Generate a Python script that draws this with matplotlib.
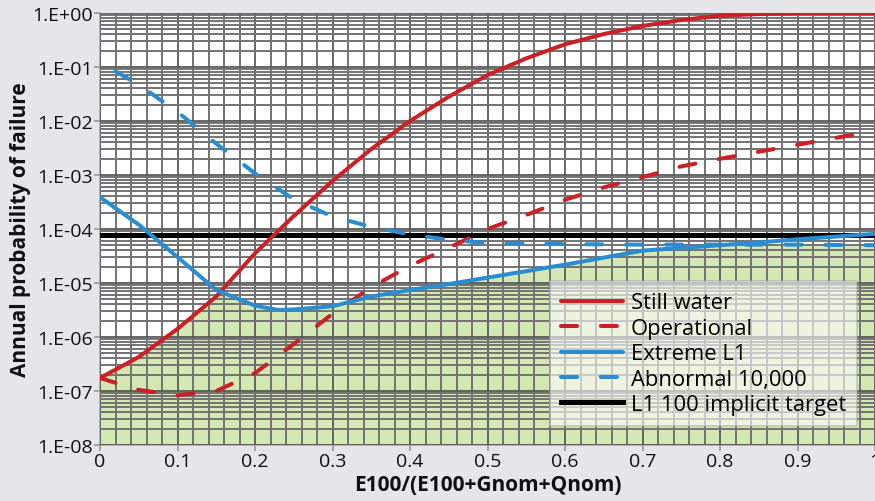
import numpy as np
import matplotlib
matplotlib.use("Agg")
import matplotlib.pyplot as plt
from matplotlib.ticker import MultipleLocator, LogLocator, NullFormatter

# ---- data (log10 of annual probability of failure) ----
x_sw = [0, 0.05, 0.1, 0.15, 0.2, 0.25, 0.3, 0.35, 0.4, 0.45, 0.5, 0.55, 0.6, 0.65, 0.7, 0.75, 0.8, 0.85, 0.9, 0.95, 1.0]
still_water = [-6.76, -6.37, -5.85, -5.25, -4.45, -3.76, -3.11, -2.52, -2.0, -1.55, -1.15, -0.84, -0.58, -0.39, -0.24, -0.13, -0.05, -0.02, 0.0, 0.0, 0.0]

x_op = [0, 0.05, 0.1, 0.15, 0.2, 0.25, 0.3, 0.35, 0.4, 0.45, 0.5, 0.55, 0.6, 0.65, 0.7, 0.75, 0.8, 0.85, 0.9, 0.95, 1.0]
operational = [-6.76, -6.98, -7.08, -7.0, -6.67, -6.13, -5.57, -5.08, -4.68, -4.35, -4.0, -3.74, -3.46, -3.23, -3.04, -2.84, -2.70, -2.57, -2.44, -2.31, -2.19]

x_ex = [0, 0.05, 0.1, 0.15, 0.2, 0.23, 0.25, 0.3, 0.35, 0.4, 0.45, 0.5, 0.55, 0.6, 0.65, 0.7, 0.75, 0.8, 0.85, 0.9, 0.95, 1.0]
extreme_l1 = [-3.41, -3.92, -4.52, -5.13, -5.42, -5.50, -5.49, -5.43, -5.25, -5.13, -5.02, -4.90, -4.78, -4.66, -4.53, -4.40, -4.35, -4.30, -4.25, -4.19, -4.14, -4.09]

x_ab = [0.02, 0.05, 0.1, 0.15, 0.2, 0.25, 0.3, 0.35, 0.4, 0.45, 0.5, 0.6, 0.7, 0.8, 0.9, 1.0]
abnormal = [-1.08, -1.33, -1.83, -2.42, -2.97, -3.45, -3.77, -3.96, -4.10, -4.20, -4.26, -4.28, -4.29, -4.29, -4.29, -4.30]

target_log = -4.11

labels = ["Still water", "Operational", "Extreme L1", "Abnormal 10,000", "L1 100 implicit target"]
ytick_vals = [1e-8, 1e-7, 1e-6, 1e-5, 1e-4, 1e-3, 1e-2, 1e-1, 1e0]
ytick_labels = ["1.E-08", "1.E-07", "1.E-06", "1.E-05", "1.E-04", "1.E-03", "1.E-02", "1.E-01", "1.E+00"]
xtick_vals = [0, 0.1, 0.2, 0.3, 0.4, 0.5, 0.6, 0.7, 0.8, 0.9, 1.0]
xtick_labels = ["0", "0.1", "0.2", "0.3", "0.4", "0.5", "0.6", "0.7", "0.8", "0.9", "1"]

RED = "#cc2027"
BLUE = "#2a8dd2"
BG = "#e5e5ea"
GREEN = "#d3e8b2"

plt.rcParams['font.family'] = ['Open Sans', 'DejaVu Sans']

fig = plt.figure(figsize=(8.75, 5.02), dpi=100, facecolor=BG)
ax = fig.add_axes([100/875, 1-446/502, 775/875, 432/502])
ax.set_facecolor("white")

# green safe region: below min of still water, extreme L1, abnormal
xf = np.linspace(0, 1, 501)
sw_i = np.interp(xf, x_sw, still_water)
ex_i = np.interp(xf, x_ex, extreme_l1)
ab_i = np.interp(xf, x_ab, abnormal, left=10)
env = np.minimum(np.minimum(sw_i, ex_i), ab_i)
ax.fill_between(xf, 1e-8, 10**env, color=GREEN, lw=0, zorder=1)

lw = 2.9
ax.plot(x_sw, 10**np.array(still_water), color=RED, lw=lw, solid_capstyle='round', zorder=3, label=labels[0])
ax.plot(x_op, 10**np.array(operational), color=RED, lw=lw, dashes=(4.0, 5.9), dash_capstyle='round', zorder=3, label=labels[1])
ax.plot(x_ex, 10**np.array(extreme_l1), color=BLUE, lw=lw, solid_capstyle='round', zorder=3, label=labels[2])
ax.plot(x_ab, 10**np.array(abnormal), color=BLUE, lw=lw, dashes=(4.0, 5.9), dash_capstyle='round', zorder=3, label=labels[3])
ax.plot([0, 1], [10**target_log]*2, color="black", lw=3.6, zorder=2.9, label=labels[4])

ax.set_yscale('log')
ax.set_xlim(0, 1)
ax.set_ylim(1e-8, 1)
ax.set_yticks(ytick_vals)
ax.set_yticklabels(ytick_labels)
ax.yaxis.set_minor_locator(LogLocator(base=10, subs=np.arange(2, 10), numticks=20))
ax.yaxis.set_minor_formatter(NullFormatter())
ax.set_xticks(xtick_vals)
ax.set_xticklabels(xtick_labels)
ax.xaxis.set_minor_locator(MultipleLocator(0.02))

ax.grid(which='major', color=(0.35, 0.35, 0.35, 0.45), lw=1.3)
ax.grid(which='minor', color=(0.45, 0.45, 0.45, 0.15), lw=1.4)
for l in ax.get_xgridlines() + ax.get_ygridlines():
    l.set_zorder(2)
ax.set_axisbelow(False)

ax.tick_params(which='major', length=4, width=1.2, color='#999999', labelsize=14, labelcolor='#111111', pad=1)
ax.tick_params(which='minor', length=0)
for s in ['top', 'right']:
    ax.spines[s].set_visible(False)
for s in ['left', 'bottom']:
    ax.spines[s].set_color('#aaaaaa')
    ax.spines[s].set_linewidth(1.2)

ax.set_xlabel("E100/(E100+Gnom+Qnom)", fontsize=15, fontweight='bold', color='#111111', labelpad=3)
ax.set_ylabel("Annual probability of failure", fontsize=15, fontweight='bold', color='#111111', labelpad=1)

leg = ax.legend(loc='lower right', bbox_to_anchor=(0.977, 0.044), borderaxespad=0, fontsize=15.8,
                handlelength=2.85, frameon=True, fancybox=False, framealpha=0.6, edgecolor='#aaaaaa',
                borderpad=0.5, labelspacing=0.2, handletextpad=0.35)
leg.get_frame().set_facecolor('white')
leg.get_frame().set_linewidth(1.2)
leg.set_zorder(5)

fig.savefig("out.png", dpi=100, facecolor=BG)
